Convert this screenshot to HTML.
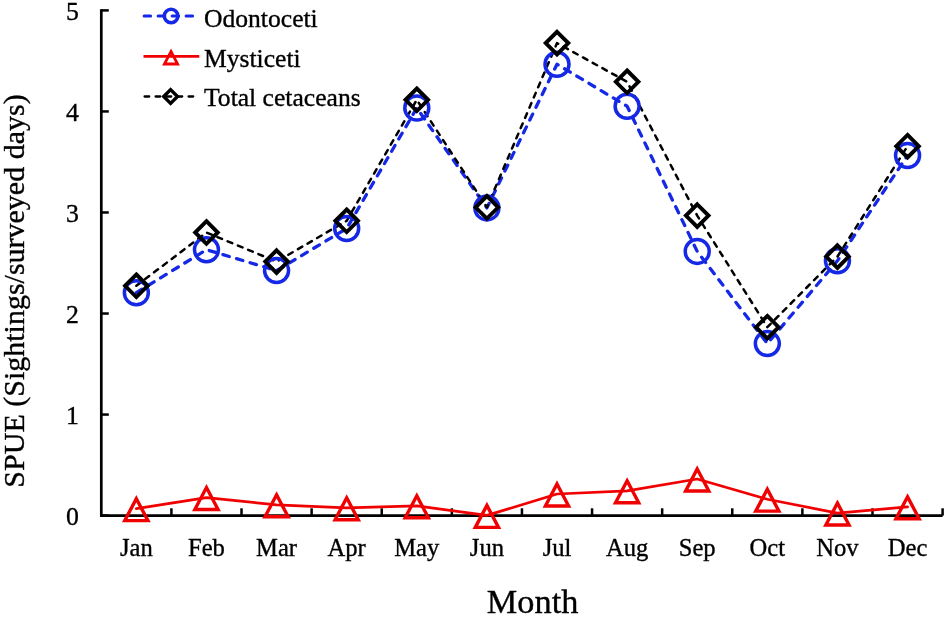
<!DOCTYPE html>
<html><head><meta charset="utf-8"><style>
html,body{margin:0;padding:0;background:#fff;width:949px;height:618px;overflow:hidden}
svg{display:block;filter:blur(0.45px)}
.t{font-family:"Liberation Serif",serif;fill:#000;stroke:#000;stroke-width:0.35px}
</style></head><body>
<svg width="949" height="618" viewBox="0 0 949 618">
<rect width="949" height="618" fill="#fff"/>
<path d="M101.30,9.2 V515.60 H942.60" fill="none" stroke="#000" stroke-width="2.7" stroke-linejoin="miter"/>
<line x1="101.30" y1="515.60" x2="108.8" y2="515.60" stroke="#000" stroke-width="2.5"/>
<line x1="101.30" y1="414.56" x2="108.8" y2="414.56" stroke="#000" stroke-width="2.5"/>
<line x1="101.30" y1="313.52" x2="108.8" y2="313.52" stroke="#000" stroke-width="2.5"/>
<line x1="101.30" y1="212.48" x2="108.8" y2="212.48" stroke="#000" stroke-width="2.5"/>
<line x1="101.30" y1="111.44" x2="108.8" y2="111.44" stroke="#000" stroke-width="2.5"/>
<line x1="101.30" y1="10.40" x2="108.8" y2="10.40" stroke="#000" stroke-width="2.5"/>
<line x1="171.41" y1="515.60" x2="171.41" y2="508.3" stroke="#000" stroke-width="2.5"/>
<line x1="241.52" y1="515.60" x2="241.52" y2="508.3" stroke="#000" stroke-width="2.5"/>
<line x1="311.62" y1="515.60" x2="311.62" y2="508.3" stroke="#000" stroke-width="2.5"/>
<line x1="381.73" y1="515.60" x2="381.73" y2="508.3" stroke="#000" stroke-width="2.5"/>
<line x1="451.84" y1="515.60" x2="451.84" y2="508.3" stroke="#000" stroke-width="2.5"/>
<line x1="521.95" y1="515.60" x2="521.95" y2="508.3" stroke="#000" stroke-width="2.5"/>
<line x1="592.06" y1="515.60" x2="592.06" y2="508.3" stroke="#000" stroke-width="2.5"/>
<line x1="662.17" y1="515.60" x2="662.17" y2="508.3" stroke="#000" stroke-width="2.5"/>
<line x1="732.27" y1="515.60" x2="732.27" y2="508.3" stroke="#000" stroke-width="2.5"/>
<line x1="802.38" y1="515.60" x2="802.38" y2="508.3" stroke="#000" stroke-width="2.5"/>
<line x1="872.49" y1="515.60" x2="872.49" y2="508.3" stroke="#000" stroke-width="2.5"/>
<line x1="942.60" y1="515.60" x2="942.60" y2="508.3" stroke="#000" stroke-width="2.5"/>
<text x="79" y="525.20" text-anchor="end" class="t" font-size="25.8">0</text>
<text x="79" y="424.16" text-anchor="end" class="t" font-size="25.8">1</text>
<text x="79" y="323.12" text-anchor="end" class="t" font-size="25.8">2</text>
<text x="79" y="222.08" text-anchor="end" class="t" font-size="25.8">3</text>
<text x="79" y="121.04" text-anchor="end" class="t" font-size="25.8">4</text>
<text x="79" y="20.00" text-anchor="end" class="t" font-size="25.8">5</text>
<text x="136.35" y="555.5" text-anchor="middle" class="t" font-size="24.6">Jan</text>
<text x="206.46" y="555.5" text-anchor="middle" class="t" font-size="24.6">Feb</text>
<text x="276.57" y="555.5" text-anchor="middle" class="t" font-size="24.6">Mar</text>
<text x="346.68" y="555.5" text-anchor="middle" class="t" font-size="24.6">Apr</text>
<text x="416.79" y="555.5" text-anchor="middle" class="t" font-size="24.6">May</text>
<text x="486.90" y="555.5" text-anchor="middle" class="t" font-size="24.6">Jun</text>
<text x="557.00" y="555.5" text-anchor="middle" class="t" font-size="24.6">Jul</text>
<text x="627.11" y="555.5" text-anchor="middle" class="t" font-size="24.6">Aug</text>
<text x="697.22" y="555.5" text-anchor="middle" class="t" font-size="24.6">Sep</text>
<text x="767.33" y="555.5" text-anchor="middle" class="t" font-size="24.6">Oct</text>
<text x="837.44" y="555.5" text-anchor="middle" class="t" font-size="24.6">Nov</text>
<text x="907.55" y="555.5" text-anchor="middle" class="t" font-size="24.6">Dec</text>
<text x="532.6" y="612.5" text-anchor="middle" class="t" font-size="34.3">Month</text>
<text transform="translate(24.0,291) rotate(-90)" text-anchor="middle" class="t" font-size="30">SPUE (Sightings/surveyed days)</text>
<polyline points="136.35,508.70 206.46,497.55 276.57,504.85 346.68,507.80 416.79,505.85 486.90,515.40 557.00,494.00 627.11,490.80 697.22,479.00 767.33,499.20 837.44,513.10 907.55,506.80" fill="none" stroke="#f00000" stroke-width="2.7" stroke-linejoin="round" stroke-linecap="round"/>
<polyline points="136.35,292.70 206.46,249.70 276.57,270.60 346.68,228.50 416.79,108.00 486.90,207.90 557.00,64.20 627.11,106.20 697.22,251.40 767.33,343.60 837.44,260.80 907.55,155.50" fill="none" stroke="#1428e6" stroke-width="3.3" stroke-dasharray="6.6 7.6" stroke-linecap="round" stroke-linejoin="round"/>
<polyline points="136.35,285.80 206.46,232.50 276.57,261.60 346.68,220.80 416.79,99.80 486.90,207.30 557.00,43.10 627.11,81.80 697.22,215.60 767.33,327.20 837.44,256.60 907.55,146.20" fill="none" stroke="#000" stroke-width="2.5" stroke-dasharray="5.0 6.1" stroke-linecap="round" stroke-linejoin="round"/>
<path d="M136.35,498.67 L147.95,520.67 L124.75,520.67 Z" fill="none" stroke="#f00000" stroke-width="3.4" stroke-linejoin="miter" stroke-miterlimit="10"/>
<path d="M206.46,487.52 L218.06,509.52 L194.86,509.52 Z" fill="none" stroke="#f00000" stroke-width="3.4" stroke-linejoin="miter" stroke-miterlimit="10"/>
<path d="M276.57,494.82 L288.17,516.82 L264.97,516.82 Z" fill="none" stroke="#f00000" stroke-width="3.4" stroke-linejoin="miter" stroke-miterlimit="10"/>
<path d="M346.68,497.77 L358.28,519.77 L335.08,519.77 Z" fill="none" stroke="#f00000" stroke-width="3.4" stroke-linejoin="miter" stroke-miterlimit="10"/>
<path d="M416.79,495.82 L428.39,517.82 L405.19,517.82 Z" fill="none" stroke="#f00000" stroke-width="3.4" stroke-linejoin="miter" stroke-miterlimit="10"/>
<path d="M486.90,505.37 L498.50,527.37 L475.30,527.37 Z" fill="none" stroke="#f00000" stroke-width="3.4" stroke-linejoin="miter" stroke-miterlimit="10"/>
<path d="M557.00,483.97 L568.60,505.97 L545.40,505.97 Z" fill="none" stroke="#f00000" stroke-width="3.4" stroke-linejoin="miter" stroke-miterlimit="10"/>
<path d="M627.11,480.77 L638.71,502.77 L615.51,502.77 Z" fill="none" stroke="#f00000" stroke-width="3.4" stroke-linejoin="miter" stroke-miterlimit="10"/>
<path d="M697.22,468.97 L708.82,490.97 L685.62,490.97 Z" fill="none" stroke="#f00000" stroke-width="3.4" stroke-linejoin="miter" stroke-miterlimit="10"/>
<path d="M767.33,489.17 L778.93,511.17 L755.73,511.17 Z" fill="none" stroke="#f00000" stroke-width="3.4" stroke-linejoin="miter" stroke-miterlimit="10"/>
<path d="M837.44,503.07 L849.04,525.07 L825.84,525.07 Z" fill="none" stroke="#f00000" stroke-width="3.4" stroke-linejoin="miter" stroke-miterlimit="10"/>
<path d="M907.55,496.77 L919.15,518.77 L895.95,518.77 Z" fill="none" stroke="#f00000" stroke-width="3.4" stroke-linejoin="miter" stroke-miterlimit="10"/>
<circle cx="136.35" cy="292.70" r="12.0" fill="none" stroke="#1428e6" stroke-width="3.5"/>
<circle cx="206.46" cy="249.70" r="12.0" fill="none" stroke="#1428e6" stroke-width="3.5"/>
<circle cx="276.57" cy="270.60" r="12.0" fill="none" stroke="#1428e6" stroke-width="3.5"/>
<circle cx="346.68" cy="228.50" r="12.0" fill="none" stroke="#1428e6" stroke-width="3.5"/>
<circle cx="416.79" cy="108.00" r="12.0" fill="none" stroke="#1428e6" stroke-width="3.5"/>
<circle cx="486.90" cy="207.90" r="12.0" fill="none" stroke="#1428e6" stroke-width="3.5"/>
<circle cx="557.00" cy="64.20" r="12.0" fill="none" stroke="#1428e6" stroke-width="3.5"/>
<circle cx="627.11" cy="106.20" r="12.0" fill="none" stroke="#1428e6" stroke-width="3.5"/>
<circle cx="697.22" cy="251.40" r="12.0" fill="none" stroke="#1428e6" stroke-width="3.5"/>
<circle cx="767.33" cy="343.60" r="12.0" fill="none" stroke="#1428e6" stroke-width="3.5"/>
<circle cx="837.44" cy="260.80" r="12.0" fill="none" stroke="#1428e6" stroke-width="3.5"/>
<circle cx="907.55" cy="155.50" r="12.0" fill="none" stroke="#1428e6" stroke-width="3.5"/>
<path d="M136.35,274.50 L147.65,285.80 L136.35,297.10 L125.05,285.80 Z" fill="none" stroke="#000" stroke-width="3.9" stroke-linejoin="miter"/>
<path d="M206.46,221.20 L217.76,232.50 L206.46,243.80 L195.16,232.50 Z" fill="none" stroke="#000" stroke-width="3.9" stroke-linejoin="miter"/>
<path d="M276.57,250.30 L287.87,261.60 L276.57,272.90 L265.27,261.60 Z" fill="none" stroke="#000" stroke-width="3.9" stroke-linejoin="miter"/>
<path d="M346.68,209.50 L357.98,220.80 L346.68,232.10 L335.38,220.80 Z" fill="none" stroke="#000" stroke-width="3.9" stroke-linejoin="miter"/>
<path d="M416.79,88.50 L428.09,99.80 L416.79,111.10 L405.49,99.80 Z" fill="none" stroke="#000" stroke-width="3.9" stroke-linejoin="miter"/>
<path d="M486.90,196.00 L498.20,207.30 L486.90,218.60 L475.60,207.30 Z" fill="none" stroke="#000" stroke-width="3.9" stroke-linejoin="miter"/>
<path d="M557.00,31.80 L568.30,43.10 L557.00,54.40 L545.70,43.10 Z" fill="none" stroke="#000" stroke-width="3.9" stroke-linejoin="miter"/>
<path d="M627.11,70.50 L638.41,81.80 L627.11,93.10 L615.81,81.80 Z" fill="none" stroke="#000" stroke-width="3.9" stroke-linejoin="miter"/>
<path d="M697.22,204.30 L708.52,215.60 L697.22,226.90 L685.92,215.60 Z" fill="none" stroke="#000" stroke-width="3.9" stroke-linejoin="miter"/>
<path d="M767.33,315.90 L778.63,327.20 L767.33,338.50 L756.03,327.20 Z" fill="none" stroke="#000" stroke-width="3.9" stroke-linejoin="miter"/>
<path d="M837.44,245.30 L848.74,256.60 L837.44,267.90 L826.14,256.60 Z" fill="none" stroke="#000" stroke-width="3.9" stroke-linejoin="miter"/>
<path d="M907.55,134.90 L918.85,146.20 L907.55,157.50 L896.25,146.20 Z" fill="none" stroke="#000" stroke-width="3.9" stroke-linejoin="miter"/>
<line x1="144.1" y1="16" x2="195" y2="16" stroke="#1428e6" stroke-width="3.0" stroke-dasharray="6.5 7.5" stroke-linecap="round"/>
<circle cx="171.10" cy="16.00" r="6.8" fill="none" stroke="#1428e6" stroke-width="3.6"/>
<line x1="143.5" y1="56.4" x2="199.3" y2="56.4" stroke="#f00000" stroke-width="2.6"/>
<path d="M171.00,51.41 L177.60,64.01 L164.40,64.01 Z" fill="none" stroke="#f00000" stroke-width="2.8" stroke-linejoin="miter" stroke-miterlimit="10"/>
<line x1="144.6" y1="96.5" x2="195" y2="96.5" stroke="#000" stroke-width="2.3" stroke-dasharray="4.6 6.4" stroke-linecap="round"/>
<path d="M170.60,89.60 L177.50,96.50 L170.60,103.40 L163.70,96.50 Z" fill="none" stroke="#000" stroke-width="3.4" stroke-linejoin="miter"/>
<text x="204" y="27.1" class="t" font-size="25.6">Odontoceti</text>
<text x="204" y="66.6" class="t" font-size="25.6">Mysticeti</text>
<text x="204" y="105.6" class="t" font-size="25.6">Total cetaceans</text>
</svg>
</body></html>
